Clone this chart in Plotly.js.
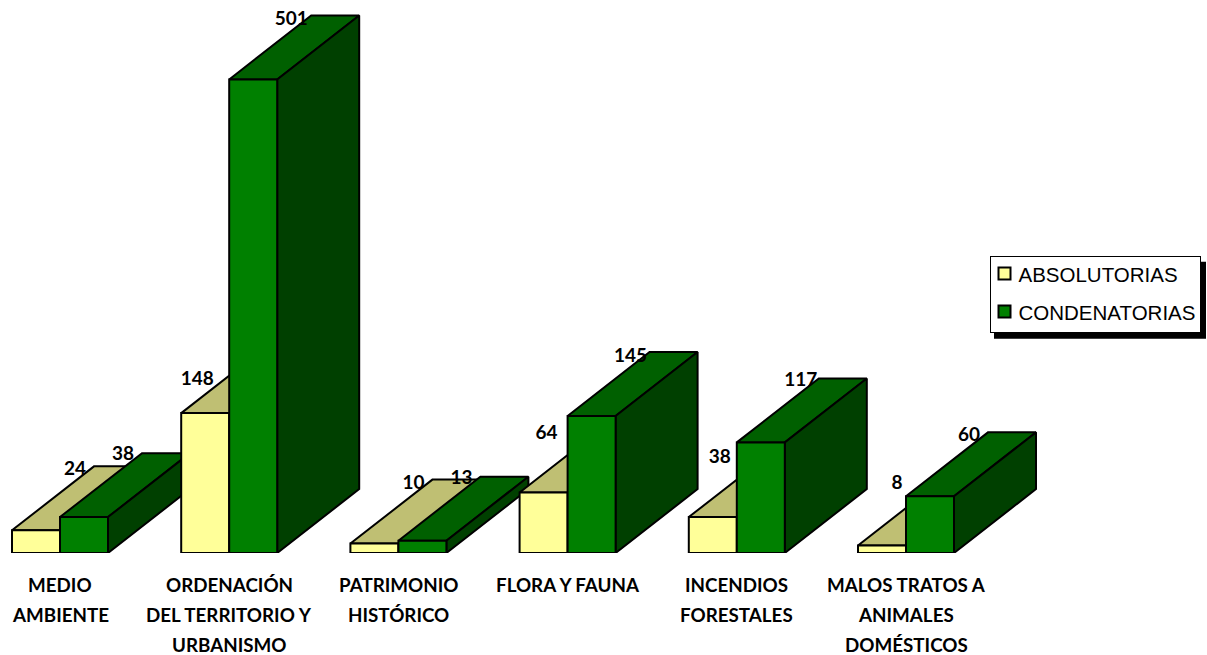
<!DOCTYPE html>
<html><head><meta charset="utf-8">
<script src="https://cdn.plot.ly/plotly-3.0.1.min.js"></script>
<style>html,body{margin:0;padding:0;background:#fff}</style></head>
<body><div id="chart" style="width:1207px;height:655px"></div>
<script>
// Data
const categoryLines = [
  ["MEDIO","AMBIENTE"],
  ["ORDENACIÓN","DEL TERRITORIO Y","URBANISMO"],
  ["PATRIMONIO","HISTÓRICO"],
  ["FLORA Y FAUNA"],
  ["INCENDIOS","FORESTALES"],
  ["MALOS TRATOS A","ANIMALES","DOMÉSTICOS"]
];
const absolutorias = [24,148,10,64,38,8];
const condenatorias = [38,501,13,145,117,60];
// Data-label placement relative to each bar's front top-left corner (pixels)
const absLabelDx = [63,16,63,27,31,39], absLabelDy = [-60,-33,-59,-58,-59,-61];
const conLabelDx = [63,62,63,63,64,63], conLabelDy = [-62,-59,-62,-59,-61,-60];

// Scales
const W=1207,H=655,baseY=553.5,stepPx=169.2,centerPx=60,pxPerUnit=474/501;
const barPx=48,depthXPx=82,depthYPx=64;
const xRange=[-centerPx/stepPx,(W-centerPx)/stepPx], yRange=[0,baseY/pxPerUnit];
const bw=barPx/stepPx, dx=depthXPx/stepPx, dy=depthYPx/pxPerUnit;
const xs=categoryLines.map((_,i)=>i);
const YELLOW="#FFFF99",BEIGE="#BFBF73",GREEN="#008000",GTOP="#006000",GSIDE="#004000";
const LW=2;

function poly(x,y,color){
  return {type:"scatter",mode:"lines",x:x.concat(x[0]),y:y.concat(y[0]),fill:"toself",fillcolor:color,
    line:{color:"#000",width:LW,shape:"linear"},hoverinfo:"skip",showlegend:false,cliponaxis:false};
}
const traces=[];
xs.forEach(i=>{
  const a=absolutorias[i],c=condenatorias[i];
  traces.push(poly([i-bw,i,i+dx,i-bw+dx],[a,a,a+dy,a+dy],BEIGE));
  traces.push(poly([i,i+bw,i+bw+dx,i+dx],[c,c,c+dy,c+dy],GTOP));
  traces.push(poly([i+bw,i+bw+dx,i+bw+dx,i+bw],[0,dy,c+dy,c],GSIDE));
});
const barCommon={type:"bar",xaxis:"x2",yaxis:"y2",cliponaxis:false,hoverinfo:"x+y"};
traces.push(Object.assign({},barCommon,{name:"ABSOLUTORIAS",x:xs,y:absolutorias,
  marker:{color:YELLOW,line:{color:"#000",width:LW}}}));
traces.push(Object.assign({},barCommon,{name:"CONDENATORIAS",x:xs,y:condenatorias,
  marker:{color:GREEN,line:{color:"#000",width:LW}}}));
function labels(vals,side,ldx,ldy){
  return {type:"scatter",mode:"text",xaxis:"x2",yaxis:"y2",showlegend:false,hoverinfo:"skip",cliponaxis:false,
    x:xs.map(i=>i+side*bw+ldx[i]/stepPx),y:vals.map((v,i)=>v-ldy[i]/pxPerUnit),
    text:vals.map(v=>"<b>"+v+"</b>"),textposition:"middle center",
    textfont:{family:"Lato, Carlito, sans-serif",size:19,color:"#000"}};
}
traces.push(labels(absolutorias,-1,absLabelDx,absLabelDy));
traces.push(labels(condenatorias,0,conLabelDx,conLabelDy));

const annotations=[];
categoryLines.forEach((lines,i)=>lines.forEach((t,k)=>annotations.push({
  xref:"x",yref:"paper",x:i,y:0,yanchor:"middle",xanchor:"center",showarrow:false,
  yshift:-(31.5+30*k),text:"<b>"+t+"</b>",
  font:{family:"Lato, Carlito, sans-serif",size:18.8,color:"#000"}
})));

const hidden={showgrid:false,zeroline:false,showline:false,showticklabels:false,ticks:"",fixedrange:true};
const px=v=>v/W, py=v=>(baseY-v)/baseY;
const layout={
  width:W,height:H,autosize:false,margin:{l:0,r:0,t:0,b:H-baseY,pad:0},
  paper_bgcolor:"#fff",plot_bgcolor:"rgba(0,0,0,0)",
  barmode:"group",bargap:1-2*bw,bargroupgap:0,
  xaxis:Object.assign({range:xRange},hidden),
  yaxis:Object.assign({range:yRange},hidden),
  xaxis2:Object.assign({range:xRange,overlaying:"x"},hidden),
  yaxis2:Object.assign({range:yRange,overlaying:"y"},hidden),
  showlegend:true,
  legend:{x:px(975),y:py(255),xanchor:"left",yanchor:"top",bgcolor:"#fff",bordercolor:"#000",borderwidth:1,
    font:{family:"Liberation Sans, Arial, sans-serif",size:20.5,color:"#000"},
    itemclick:false,itemdoubleclick:false,traceorder:"normal"},
  shapes:[{type:"rect",xref:"paper",yref:"paper",x0:px(994),x1:px(1206),y0:py(262),y1:py(339),
    fillcolor:"#000",line:{width:0},layer:"above"}],
  annotations:annotations
};
function tidyLegend(){
  // Plotly sizes its legend from fixed gaps; bring box, swatches and text to the reference's tighter layout
  const leg=document.querySelector(".legend");
  leg.setAttribute("transform","translate(989.5,255.5)");
  const bg=leg.querySelector(".bg");
  bg.setAttribute("width","210"); bg.setAttribute("height","76");
  const sb=leg.querySelector(".scrollbox");
  if(sb) sb.removeAttribute("clip-path");
  const centers=[18,56];
  leg.querySelectorAll(".traces").forEach((t,i)=>{
    t.setAttribute("transform","translate(15,"+centers[i]+")");
    const s=t.querySelector(".legendsymbols");
    if(s) s.setAttribute("transform","translate(-20,0)");
    const tx=t.querySelector(".legendtext");
    tx.setAttribute("x","14");
    tx.querySelectorAll("tspan").forEach(n=>n.setAttribute("x","14"));
  });
}
Plotly.newPlot("chart",traces,layout,{displayModeBar:false}).then(tidyLegend);
</script></body></html>
